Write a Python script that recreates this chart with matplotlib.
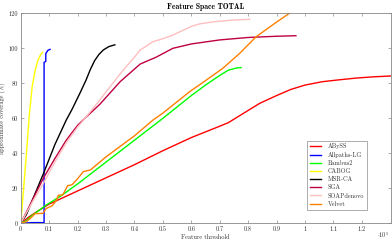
import matplotlib
matplotlib.use("Agg")
import matplotlib.pyplot as plt
import numpy as np

plt.rcParams['font.family'] = ['cmr10', 'DejaVu Serif']
plt.rcParams['mathtext.fontset'] = 'cm'
plt.rcParams['axes.unicode_minus'] = False

# x in units of 10^5
abyss_x = [0, 0.03, 0.06, 0.1, 0.2, 0.3, 0.4, 0.5, 0.6, 0.7, 0.73, 0.78, 0.84, 0.9, 0.95, 1.0, 1.06, 1.12, 1.18, 1.24, 1.302]
abyss_y = [0, 3.8, 7, 11, 18.5, 26, 33.5, 41.5, 49, 55.5, 57.5, 62.5, 68.5, 73, 76.5, 79, 80.9, 82, 83, 83.7, 84.2]

allpaths_x = [0, 0.04, 0.082, 0.082, 0.088, 0.088, 0.095, 0.103]
allpaths_y = [0, 0.4, 0.4, 92, 92.5, 97, 98.8, 99.4]

bambus_x = [0, 0.02, 0.04, 0.09, 0.14, 0.2, 0.3, 0.4, 0.5, 0.6, 0.65, 0.7, 0.73, 0.76, 0.775]
bambus_y = [0, 1.5, 4.5, 10.5, 15.5, 22.5, 35, 47.5, 60, 73, 79, 84.5, 87.5, 88.8, 89]

cabog_x = [0, 0.01, 0.02, 0.03, 0.04, 0.05, 0.06, 0.07, 0.077]
cabog_y = [0, 20, 40, 62, 78, 87, 93, 96.5, 97.7]

msrca_x = [0, 0.02, 0.04, 0.08, 0.12, 0.16, 0.18, 0.21, 0.23, 0.245, 0.26, 0.275, 0.29, 0.31, 0.331]
msrca_y = [0, 5, 13, 28.5, 45, 59, 65, 75, 82, 88, 93, 96.5, 99, 101, 102]

sga_x = [0, 0.044, 0.079, 0.12, 0.16, 0.2, 0.232, 0.278, 0.35, 0.42, 0.477, 0.535, 0.6, 0.7, 0.8, 0.9, 0.968]
sga_y = [0, 14.3, 25.7, 37, 47.5, 56, 61, 68, 81, 91, 95, 100, 102.5, 104.8, 106.2, 106.9, 107.2]

soap_x = [0, 0.04, 0.08, 0.12, 0.16, 0.2, 0.226, 0.278, 0.35, 0.4, 0.42, 0.465, 0.5, 0.535, 0.56, 0.6, 0.63, 0.68, 0.75, 0.805]
soap_y = [0, 12, 23, 35, 46, 55, 60, 70.5, 85.5, 95, 99, 103.8, 105.5, 107.5, 109.5, 112.5, 114, 115.2, 116.2, 116.6]

velvet_x = [0, 0.02, 0.035, 0.05, 0.078, 0.09, 0.11, 0.125, 0.132, 0.148, 0.165, 0.18, 0.2, 0.22, 0.245, 0.3, 0.4, 0.465, 0.5, 0.594, 0.653, 0.711, 0.77, 0.828, 0.9, 0.945, 0.96]
velvet_y = [0, 1, 3, 5.5, 5.7, 8.5, 10, 13, 16, 16.3, 21.5, 22, 25.5, 29.5, 30.5, 38, 50, 59, 63, 75.2, 81.9, 88.6, 97.1, 106.6, 115, 120, 122]

series = [
    ("ABySS", abyss_x, abyss_y, "#ff0000"),
    ("Allpaths-LG", allpaths_x, allpaths_y, "#0000ff"),
    ("Bambus2", bambus_x, bambus_y, "#00ff00"),
    ("CABOG", cabog_x, cabog_y, "#ffff00"),
    ("MSR-CA", msrca_x, msrca_y, "#000000"),
    ("SGA", sga_x, sga_y, "#bf0040"),
    ("SOAPdenovo", soap_x, soap_y, "#ffbfbf"),
    ("Velvet", velvet_x, velvet_y, "#ff8000"),
]

xticks = [0, 0.1, 0.2, 0.3, 0.4, 0.5, 0.6, 0.7, 0.8, 0.9, 1, 1.1, 1.2]
xticklabels = ["0", "0.1", "0.2", "0.3", "0.4", "0.5", "0.6", "0.7", "0.8", "0.9", "1", "1.1", "1.2"]
yticks = [0, 20, 40, 60, 80, 100, 120]

fig = plt.figure(figsize=(3.92, 2.41), dpi=100)
ax = fig.add_axes([0.053, 0.0734, 0.944, 0.8713])

for name, xs, ys, c in series:
    ax.plot(xs, ys, color=c, lw=1.0, label=name)

ax.set_xlim(0, 1.302)
ax.set_ylim(0, 120)
ax.set_xticks(xticks)
ax.set_xticklabels(xticklabels)
ax.set_yticks(yticks)
ax.tick_params(direction='in', length=2.5, width=0.5, labelsize=4.5, pad=2,
               top=True, right=True, colors='#888888', labelcolor='#333333')
for s in ax.spines.values():
    s.set_color('#888888')
    s.set_linewidth(0.6)

ax.set_title("Feature Space TOTAL", fontsize=5.5, fontfamily='cmb10', pad=3)
ax.set_xlabel("Feature threshold", fontsize=4.5, labelpad=1.5, color='#333333')
ax.set_ylabel("approximate coverage (%)", fontsize=4.5, labelpad=2, color='#333333')
ax.text(0.995, -0.078, r"$\cdot 10^5$", transform=ax.transAxes, fontsize=4.5,
        ha='right', va='bottom', color='#333333')

leg = ax.legend(loc='lower right', bbox_to_anchor=(0.943, 0.05), fontsize=4.5,
                frameon=True, fancybox=False, edgecolor='#888888',
                handlelength=1.8, handletextpad=1.0, labelspacing=0.38,
                borderpad=0.45)
leg.get_frame().set_linewidth(0.6)
for t in leg.get_texts():
    t.set_color('#333333')

fig.savefig("out.png", dpi=100)
